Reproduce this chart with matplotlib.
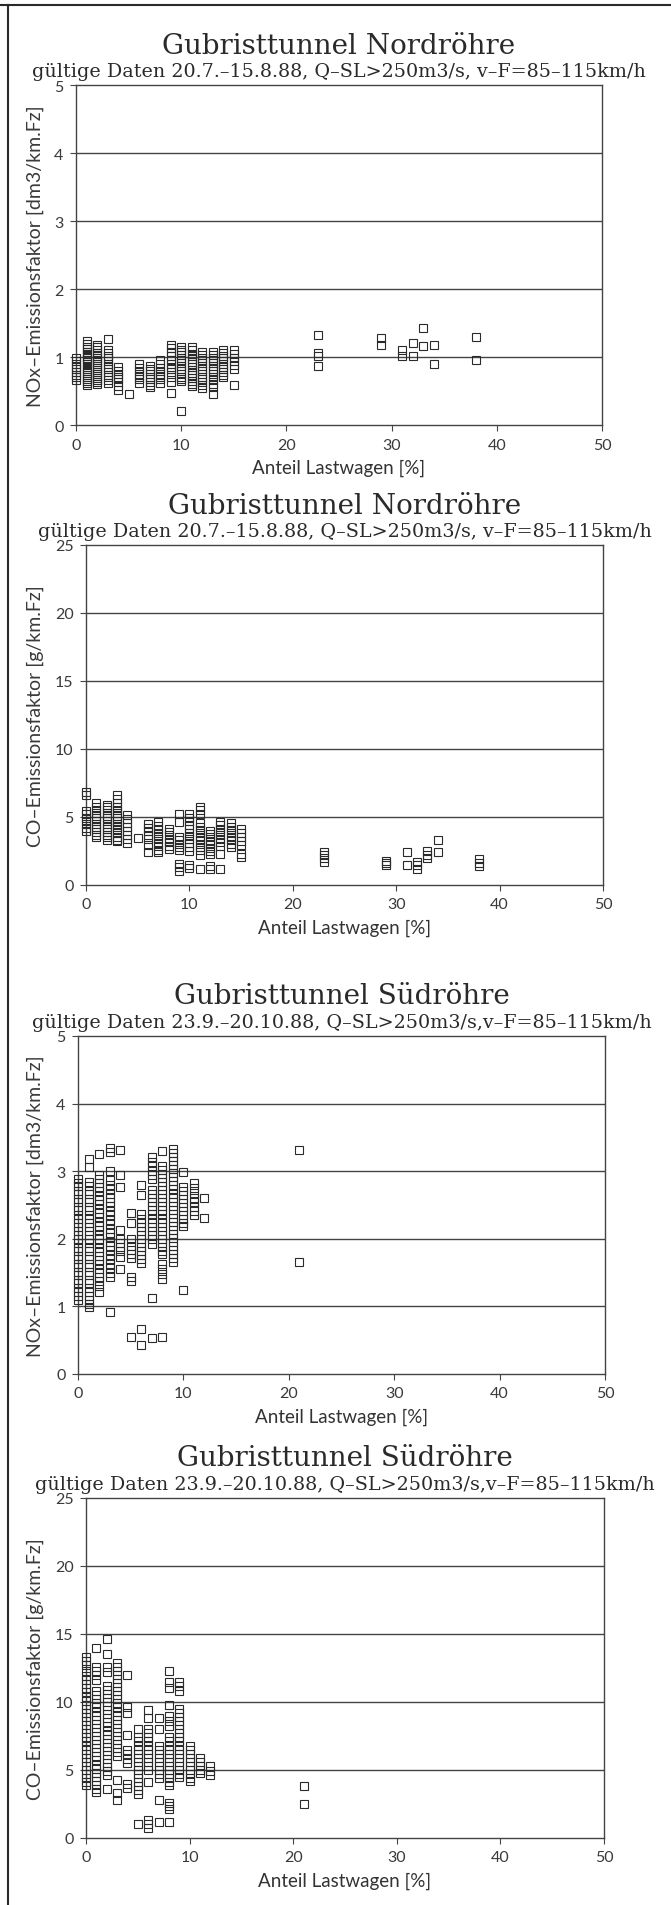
#!/usr/bin/env python3
"""Gubristtunnel: NOx- und CO-Emissionsfaktoren gegen Anteil Lastwagen."""

import matplotlib
matplotlib.use("Agg")
import matplotlib.pyplot as plt
from matplotlib.lines import Line2D

# --- Nordröhre, NOx [dm3/km.Fz] ---
NOX_NORD_X = [0, 1, 2, 3, 4, 5, 6, 7, 8, 9, 10, 11, 12, 13, 14, 15,
              23, 29, 31, 32, 33, 34, 38]
NOX_NORD_Y = [
    [0.98, 0.94, 0.90, 0.86, 0.82, 0.78, 0.74, 0.70, 0.66],
    [1.23, 1.19, 1.15, 1.12, 1.08, 1.04, 1.01, 0.98, 0.95, 0.92, 0.89,
     0.86, 0.83, 0.80, 0.77, 0.74, 0.71, 0.68, 0.65, 0.62, 0.59],
    [1.18, 1.14, 1.10, 1.06, 1.02, 0.99, 0.96, 0.93, 0.90, 0.87, 0.84,
     0.81, 0.78, 0.75, 0.72, 0.69, 0.66, 0.63, 0.60],
    [1.27, 1.10, 1.06, 1.02, 0.98, 0.94, 0.90, 0.86, 0.82, 0.78, 0.74,
     0.70, 0.66, 0.62],
    [0.85, 0.80, 0.75, 0.71, 0.67, 0.63, 0.58, 0.52],
    [0.46],
    [0.89, 0.84, 0.79, 0.75, 0.71, 0.67, 0.62],
    [0.87, 0.83, 0.79, 0.75, 0.71, 0.67, 0.63, 0.59, 0.56],
    [0.95, 0.89, 0.84, 0.79, 0.75, 0.71, 0.67, 0.62],
    [1.18, 1.13, 1.07, 1.01, 0.95, 0.90, 0.86, 0.82, 0.78, 0.70, 0.63, 0.47],
    [1.15, 1.11, 1.07, 1.03, 0.99, 0.95, 0.91, 0.87, 0.83, 0.79, 0.75,
     0.71, 0.67, 0.64, 0.21],
    [1.15, 1.10, 1.05, 1.01, 0.97, 0.93, 0.89, 0.85, 0.81, 0.77, 0.73,
     0.69, 0.65, 0.61, 0.58],
    [1.07, 1.03, 0.99, 0.95, 0.91, 0.87, 0.83, 0.79, 0.75, 0.71, 0.67,
     0.63, 0.59, 0.55],
    [1.07, 1.03, 0.99, 0.95, 0.91, 0.87, 0.83, 0.79, 0.75, 0.71, 0.66,
     0.61, 0.56, 0.46],
    [1.10, 1.06, 1.02, 0.98, 0.94, 0.90, 0.86, 0.82, 0.78, 0.74, 0.71],
    [1.10, 1.04, 0.99, 0.94, 0.88, 0.82, 0.59],
    [1.33, 1.06, 1.01, 0.87],
    [1.28, 1.18],
    [1.11, 1.01],
    [1.20, 1.01],
    [1.42, 1.16],
    [1.17, 0.90],
    [1.29, 0.95],
]

# --- Nordröhre, CO [g/km.Fz] ---
CO_NORD_X = NOX_NORD_X
CO_NORD_Y = [
    [6.85, 6.62, 5.45, 5.20, 4.95, 4.70, 4.45, 4.20, 3.95],
    [6.0, 5.75, 5.5, 5.3, 5.1, 4.9, 4.7, 4.5, 4.3, 4.1, 3.9, 3.7, 3.5],
    [5.9, 5.7, 5.5, 5.3, 5.1, 4.9, 4.7, 4.5, 4.3, 4.1, 3.9, 3.7, 3.5, 3.3],
    [6.6, 6.3, 6.0, 5.75, 5.5, 5.3, 5.1, 4.9, 4.7, 4.5, 4.3, 4.05, 3.8,
     3.55, 3.3, 3.2],
    [5.15, 4.85, 4.55, 4.25, 3.95, 3.65, 3.35, 3.1],
    [3.45],
    [4.5, 4.2, 3.95, 3.7, 3.35, 2.95, 2.4],
    [4.6, 4.35, 4.1, 3.85, 3.6, 3.35, 3.1, 2.85, 2.6, 2.4],
    [4.15, 3.9, 3.65, 3.4, 3.15, 2.9, 2.65],
    [5.2, 4.65, 3.55, 3.3, 3.05, 2.8, 2.55, 1.55, 1.3, 1.05],
    [5.2, 4.95, 4.7, 4.4, 4.1, 3.85, 3.6, 3.35, 3.1, 2.8, 2.5, 1.45, 1.25],
    [5.75, 5.5, 5.2, 4.55, 4.3, 4.05, 3.8, 3.55, 3.3, 3.05, 2.8, 2.55,
     2.2, 1.2],
    [4.0, 3.75, 3.5, 3.25, 3.0, 2.75, 2.5, 2.3, 1.4, 1.15],
    [4.65, 4.4, 4.15, 3.9, 3.65, 3.4, 3.15, 2.9, 2.3, 1.2],
    [4.55, 4.3, 4.05, 3.8, 3.55, 3.3, 3.05, 2.8],
    [4.15, 3.85, 3.55, 3.25, 2.95, 2.25, 2.05],
    [2.45, 2.2, 1.95, 1.7],
    [1.8, 1.6, 1.45],
    [2.45, 1.45],
    [1.7, 1.45, 1.2],
    [2.5, 2.2, 1.95],
    [3.3, 2.4],
    [1.9, 1.65, 1.4],
]

# --- Südröhre, NOx [dm3/km.Fz] ---
NOX_SUED_X = [0, 1, 2, 3, 4, 5, 6, 7, 8, 9, 10, 11, 12, 21]
NOX_SUED_Y = [
    [2.89, 2.83, 2.78, 2.71, 2.66, 2.59, 2.54, 2.47, 2.42, 2.35, 2.30,
     2.23, 2.18, 2.11, 2.06, 1.99, 1.94, 1.87, 1.82, 1.75, 1.70, 1.63,
     1.58, 1.51, 1.46, 1.39, 1.34, 1.27, 1.22, 1.15, 1.09],
    [3.18, 3.06, 2.84, 2.78, 2.71, 2.66, 2.59, 2.54, 2.47, 2.42, 2.35,
     2.30, 2.23, 2.18, 2.11, 2.06, 1.99, 1.94, 1.87, 1.82, 1.75, 1.70,
     1.63, 1.58, 1.51, 1.46, 1.39, 1.34, 1.27, 1.22, 1.15, 1.10, 1.04, 0.99],
    [3.25, 2.95, 2.89, 2.82, 2.76, 2.70, 2.63, 2.57, 2.51, 2.44, 2.38,
     2.32, 2.25, 2.19, 2.13, 2.06, 2.00, 1.94, 1.87, 1.81, 1.75, 1.68,
     1.62, 1.56, 1.49, 1.43, 1.37, 1.30, 1.22],
    [3.35, 3.28, 3.00, 2.87, 2.80, 2.74, 2.67, 2.61, 2.54, 2.48, 2.41,
     2.35, 2.28, 2.22, 2.15, 2.09, 2.02, 1.96, 1.89, 1.83, 1.76, 1.70,
     1.63, 1.57, 1.50, 1.44, 0.91],
    [3.31, 2.95, 2.76, 2.13, 2.00, 1.94, 1.88, 1.82, 1.73, 1.55],
    [2.38, 2.23, 2.00, 1.90, 1.84, 1.78, 1.72, 1.43, 1.37, 0.55],
    [2.80, 2.65, 2.36, 2.30, 2.24, 2.18, 2.12, 2.06, 2.00, 1.94, 1.88,
     1.82, 1.76, 1.70, 1.64, 0.66, 0.43],
    [3.21, 3.14, 3.07, 3.00, 2.94, 2.89, 2.72, 2.66, 2.60, 2.54, 2.48,
     2.42, 2.36, 2.30, 2.24, 2.18, 2.12, 2.06, 2.00, 1.92, 1.13, 0.53],
    [3.30, 3.08, 3.02, 2.96, 2.90, 2.84, 2.78, 2.72, 2.66, 2.60, 2.54,
     2.48, 2.42, 2.36, 2.30, 2.24, 2.18, 2.12, 2.06, 2.00, 1.94, 1.88,
     1.82, 1.77, 1.62, 1.55, 1.48, 1.41, 0.54],
    [3.33, 3.27, 3.21, 3.15, 3.09, 3.03, 2.97, 2.91, 2.85, 2.79, 2.73,
     2.67, 2.61, 2.55, 2.49, 2.43, 2.37, 2.31, 2.25, 2.19, 2.13, 2.07,
     2.01, 1.95, 1.89, 1.83, 1.77, 1.71, 1.65],
    [2.99, 2.77, 2.71, 2.65, 2.59, 2.53, 2.47, 2.41, 2.35, 2.29, 2.23,
     2.19, 1.25],
    [2.82, 2.75, 2.68, 2.61, 2.54, 2.47, 2.41, 2.35],
    [2.60, 2.31],
    [3.32, 1.65],
]

# --- Südröhre, CO [g/km.Fz] ---
CO_SUED_X = [0, 1, 2, 3, 4, 5, 6, 7, 8, 9, 10, 11, 12, 21]
CO_SUED_Y = [
    [13.3, 13.0, 12.7, 12.3, 11.9, 11.6, 11.3, 11.0, 10.7, 10.4, 10.1,
     9.8, 9.5, 9.2, 8.9, 8.6, 8.3, 8.0, 7.7, 7.4, 7.1, 6.8, 6.5, 6.2,
     5.9, 5.6, 5.3, 5.0, 4.7, 4.4, 4.1, 3.9],
    [14.0, 12.6, 12.3, 12.0, 11.6, 10.8, 10.5, 10.2, 9.9, 9.6, 9.3, 9.0,
     8.7, 8.4, 8.1, 7.8, 7.5, 7.2, 6.9, 6.6, 6.3, 6.0, 5.7, 5.4, 5.1,
     4.8, 4.5, 4.2, 3.9, 3.6, 3.4],
    [14.6, 13.5, 12.6, 12.2, 11.2, 10.9, 10.6, 10.3, 10.0, 9.7, 9.4, 9.1,
     8.8, 8.5, 8.2, 7.9, 7.6, 7.3, 7.0, 6.7, 6.4, 6.1, 5.8, 5.5, 5.2,
     4.9, 4.6, 3.6],
    [12.9, 12.6, 12.3, 12.0, 11.7, 11.4, 11.1, 10.8, 10.5, 10.2, 9.9, 9.6,
     9.3, 9.0, 8.7, 8.4, 8.1, 7.8, 7.5, 7.2, 6.9, 6.6, 6.3, 6.0, 4.3,
     3.3, 2.8],
    [12.0, 9.6, 9.2, 7.6, 6.5, 6.2, 5.8, 5.5, 4.0, 3.7],
    [8.0, 7.4, 7.1, 6.8, 6.5, 6.2, 5.9, 5.6, 5.3, 5.0, 4.7, 4.4, 4.1,
     3.8, 3.5, 3.2, 1.0],
    [9.4, 8.8, 8.0, 7.7, 7.4, 7.1, 6.8, 6.5, 6.2, 5.9, 5.6, 5.3, 5.0,
     4.1, 1.3, 1.0, 0.7],
    [8.8, 8.0, 6.8, 6.5, 6.2, 5.9, 5.6, 5.3, 5.0, 4.7, 4.4, 2.8, 1.2],
    [12.3, 11.5, 11.0, 9.8, 9.0, 8.6, 8.2, 7.4, 7.1, 6.8, 6.5, 6.2, 5.9,
     5.6, 5.3, 5.0, 4.7, 4.4, 4.1, 3.9, 2.6, 2.35, 2.1, 1.2],
    [11.5, 11.2, 10.8, 9.5, 9.2, 8.9, 8.6, 8.3, 8.0, 7.7, 7.4, 7.1, 6.8,
     6.5, 6.2, 5.9, 5.6, 5.3, 5.0, 4.7, 4.5],
    [6.8, 6.5, 6.2, 5.9, 5.6, 5.3, 5.0, 4.7, 4.4, 4.2],
    [5.9, 5.6, 5.3, 5.0, 4.8],
    [5.3, 4.9, 4.6],
    [3.8, 2.5],
]

TITLE_NORD = "Gubristtunnel Nordröhre"
TITLE_SUED = "Gubristtunnel Südröhre"
SUB_NORD = "gültige Daten 20.7.–15.8.88, Q–SL>250m3/s, v–F=85–115km/h"
SUB_SUED = "gültige Daten 23.9.–20.10.88, Q–SL>250m3/s,v–F=85–115km/h"
YLABEL_NOX = "NOx–Emissionsfaktor [dm3/km.Fz]"
YLABEL_CO = "CO–Emissionsfaktor [g/km.Fz]"
XLABEL = "Anteil Lastwagen [%]"

W, H = 671, 1906
INK = "#2a2a2a"
SANS = ["Lato", "DejaVu Sans"]


def px_axes(fig, left, right, top, bottom):
    return fig.add_axes([left / W, 1 - bottom / H, (right - left) / W, (bottom - top) / H])


def panel(fig, box, xs, ys, ymax, ystep, ylabel, title, sub):
    left, right, top, bottom = box
    ax = px_axes(fig, left, right, top, bottom)
    px, py = [], []
    for x, col in zip(xs, ys):
        px += [x] * len(col)
        py += col
    ax.plot(px, py, "s", ms=5.3, mfc="none", mec=INK, mew=0.8, ls="none",
            clip_on=False, zorder=3)
    ax.set_xlim(0, 50)
    ax.set_ylim(0, ymax)
    ax.set_xticks(range(0, 51, 10))
    ax.set_yticks(range(0, ymax + 1, ystep))
    for v in range(ystep, ymax, ystep):
        ax.axhline(v, color="#444444", lw=1.0, zorder=0)
    for s in ax.spines.values():
        s.set_color("#444444")
        s.set_linewidth(1.0)
    ax.tick_params(direction="out", length=4, width=0.8, colors="#444444",
                   labelsize=11.5, labelcolor="#3a3a3a", pad=5)
    for lab in ax.get_xticklabels() + ax.get_yticklabels():
        lab.set_family(SANS)
    ax.set_xlabel(XLABEL, fontsize=13.5, color="#333333", labelpad=5,
                  family=SANS)
    ax.set_ylabel(ylabel, fontsize=14, color="#3a3a3a", family=SANS)
    ax.yaxis.set_label_coords((44 - left) / (right - left), 0.5)
    xc = (left + right) / 2 / W
    fig.text(xc, 1 - (top - 40) / H, title, ha="center", va="center",
             family="DejaVu Serif", fontsize=20, color=INK)
    fig.text(xc, 1 - (top - 14) / H, sub, ha="center", va="center",
             family="DejaVu Serif", fontsize=13.8, color=INK)
    return ax


def main():
    fig = plt.figure(figsize=(W / 100, H / 100), dpi=100)
    fig.patch.set_facecolor("white")

    panel(fig, (76, 602, 86, 426), NOX_NORD_X, NOX_NORD_Y, 5, 1,
          YLABEL_NOX, TITLE_NORD, SUB_NORD)
    panel(fig, (86, 603, 546, 886), CO_NORD_X, CO_NORD_Y, 25, 5,
          YLABEL_CO, TITLE_NORD, SUB_NORD)
    panel(fig, (78, 605, 1037, 1375), NOX_SUED_X, NOX_SUED_Y, 5, 1,
          YLABEL_NOX, TITLE_SUED, SUB_SUED)
    panel(fig, (86, 604, 1499, 1839), CO_SUED_X, CO_SUED_Y, 25, 5,
          YLABEL_CO, TITLE_SUED, SUB_SUED)

    # scanned page frame (top and left edge)
    fig.add_artist(Line2D([0, 1], [1 - 6 / H, 1 - 6 / H], color=INK, lw=1.5))
    fig.add_artist(Line2D([8 / W, 8 / W], [0, 1 - 6 / H], color=INK, lw=1.5))

    fig.savefig("out.png", dpi=100)


if __name__ == "__main__":
    main()
